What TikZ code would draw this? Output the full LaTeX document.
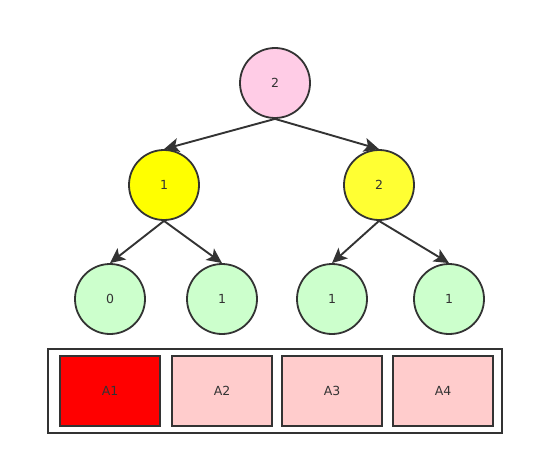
\documentclass[tikz,border=0pt]{standalone}
\usepackage{fontspec}
\setmainfont{DejaVu Sans}
\usetikzlibrary{arrows.meta}
\definecolor{strokec}{HTML}{333333}
\definecolor{pinkc}{HTML}{FFCCE6}
\definecolor{yellowa}{HTML}{FFFF00}
\definecolor{yellowb}{HTML}{FFFF33}
\definecolor{greenc}{HTML}{CCFFCC}
\definecolor{redc}{HTML}{FF0000}
\definecolor{lightred}{HTML}{FFCCCC}
\tikzset{
  tnode/.style={circle, draw=strokec, line width=1.8pt, minimum size=70pt, inner sep=0pt, text=strokec, font=\fontsize{12.5pt}{14pt}\selectfont},
  cell/.style={rectangle, draw=strokec, line width=1.8pt, minimum width=100pt, minimum height=70pt, inner sep=0pt, text=strokec, font=\fontsize{12.5pt}{14pt}\selectfont},
  edge/.style={draw=strokec, line width=1.9pt, -{Stealth[length=15pt,width=14pt,inset=3.5pt]}},
}
\begin{document}
\begin{tikzpicture}[x=1pt,y=-1pt]
\useasboundingbox (0,0) rectangle (534,465);
\node[tnode, fill=pinkc] (r) at (275,83) {2};
\node[tnode, fill=yellowa] (l) at (164,185) {1};
\node[tnode, fill=yellowb] (rr) at (379,185) {2};
\node[tnode, fill=greenc] (ll) at (110,299) {0};
\node[tnode, fill=greenc] (lr) at (222,299) {1};
\node[tnode, fill=greenc] (rl) at (332,299) {1};
\node[tnode, fill=greenc] (rrr) at (449,299) {1};
\draw[edge] (r.south) -- (l.north);
\draw[edge] (r.south) -- (rr.north);
\draw[edge] (l.south) -- (ll.north);
\draw[edge] (l.south) -- (lr.north);
\draw[edge] (rr.south) -- (rl.north);
\draw[edge] (rr.south) -- (rrr.north);
\node[rectangle, draw=strokec, line width=1.8pt, minimum width=454pt, minimum height=84pt, inner sep=0pt] (arr) at (275,391) {};
\node[cell, fill=redc] (a1) at (110,391) {A1};
\node[cell, fill=lightred] (a2) at (222,391) {A2};
\node[cell, fill=lightred] (a3) at (332,391) {A3};
\node[cell, fill=lightred] (a4) at (443,391) {A4};
\end{tikzpicture}
\end{document}
